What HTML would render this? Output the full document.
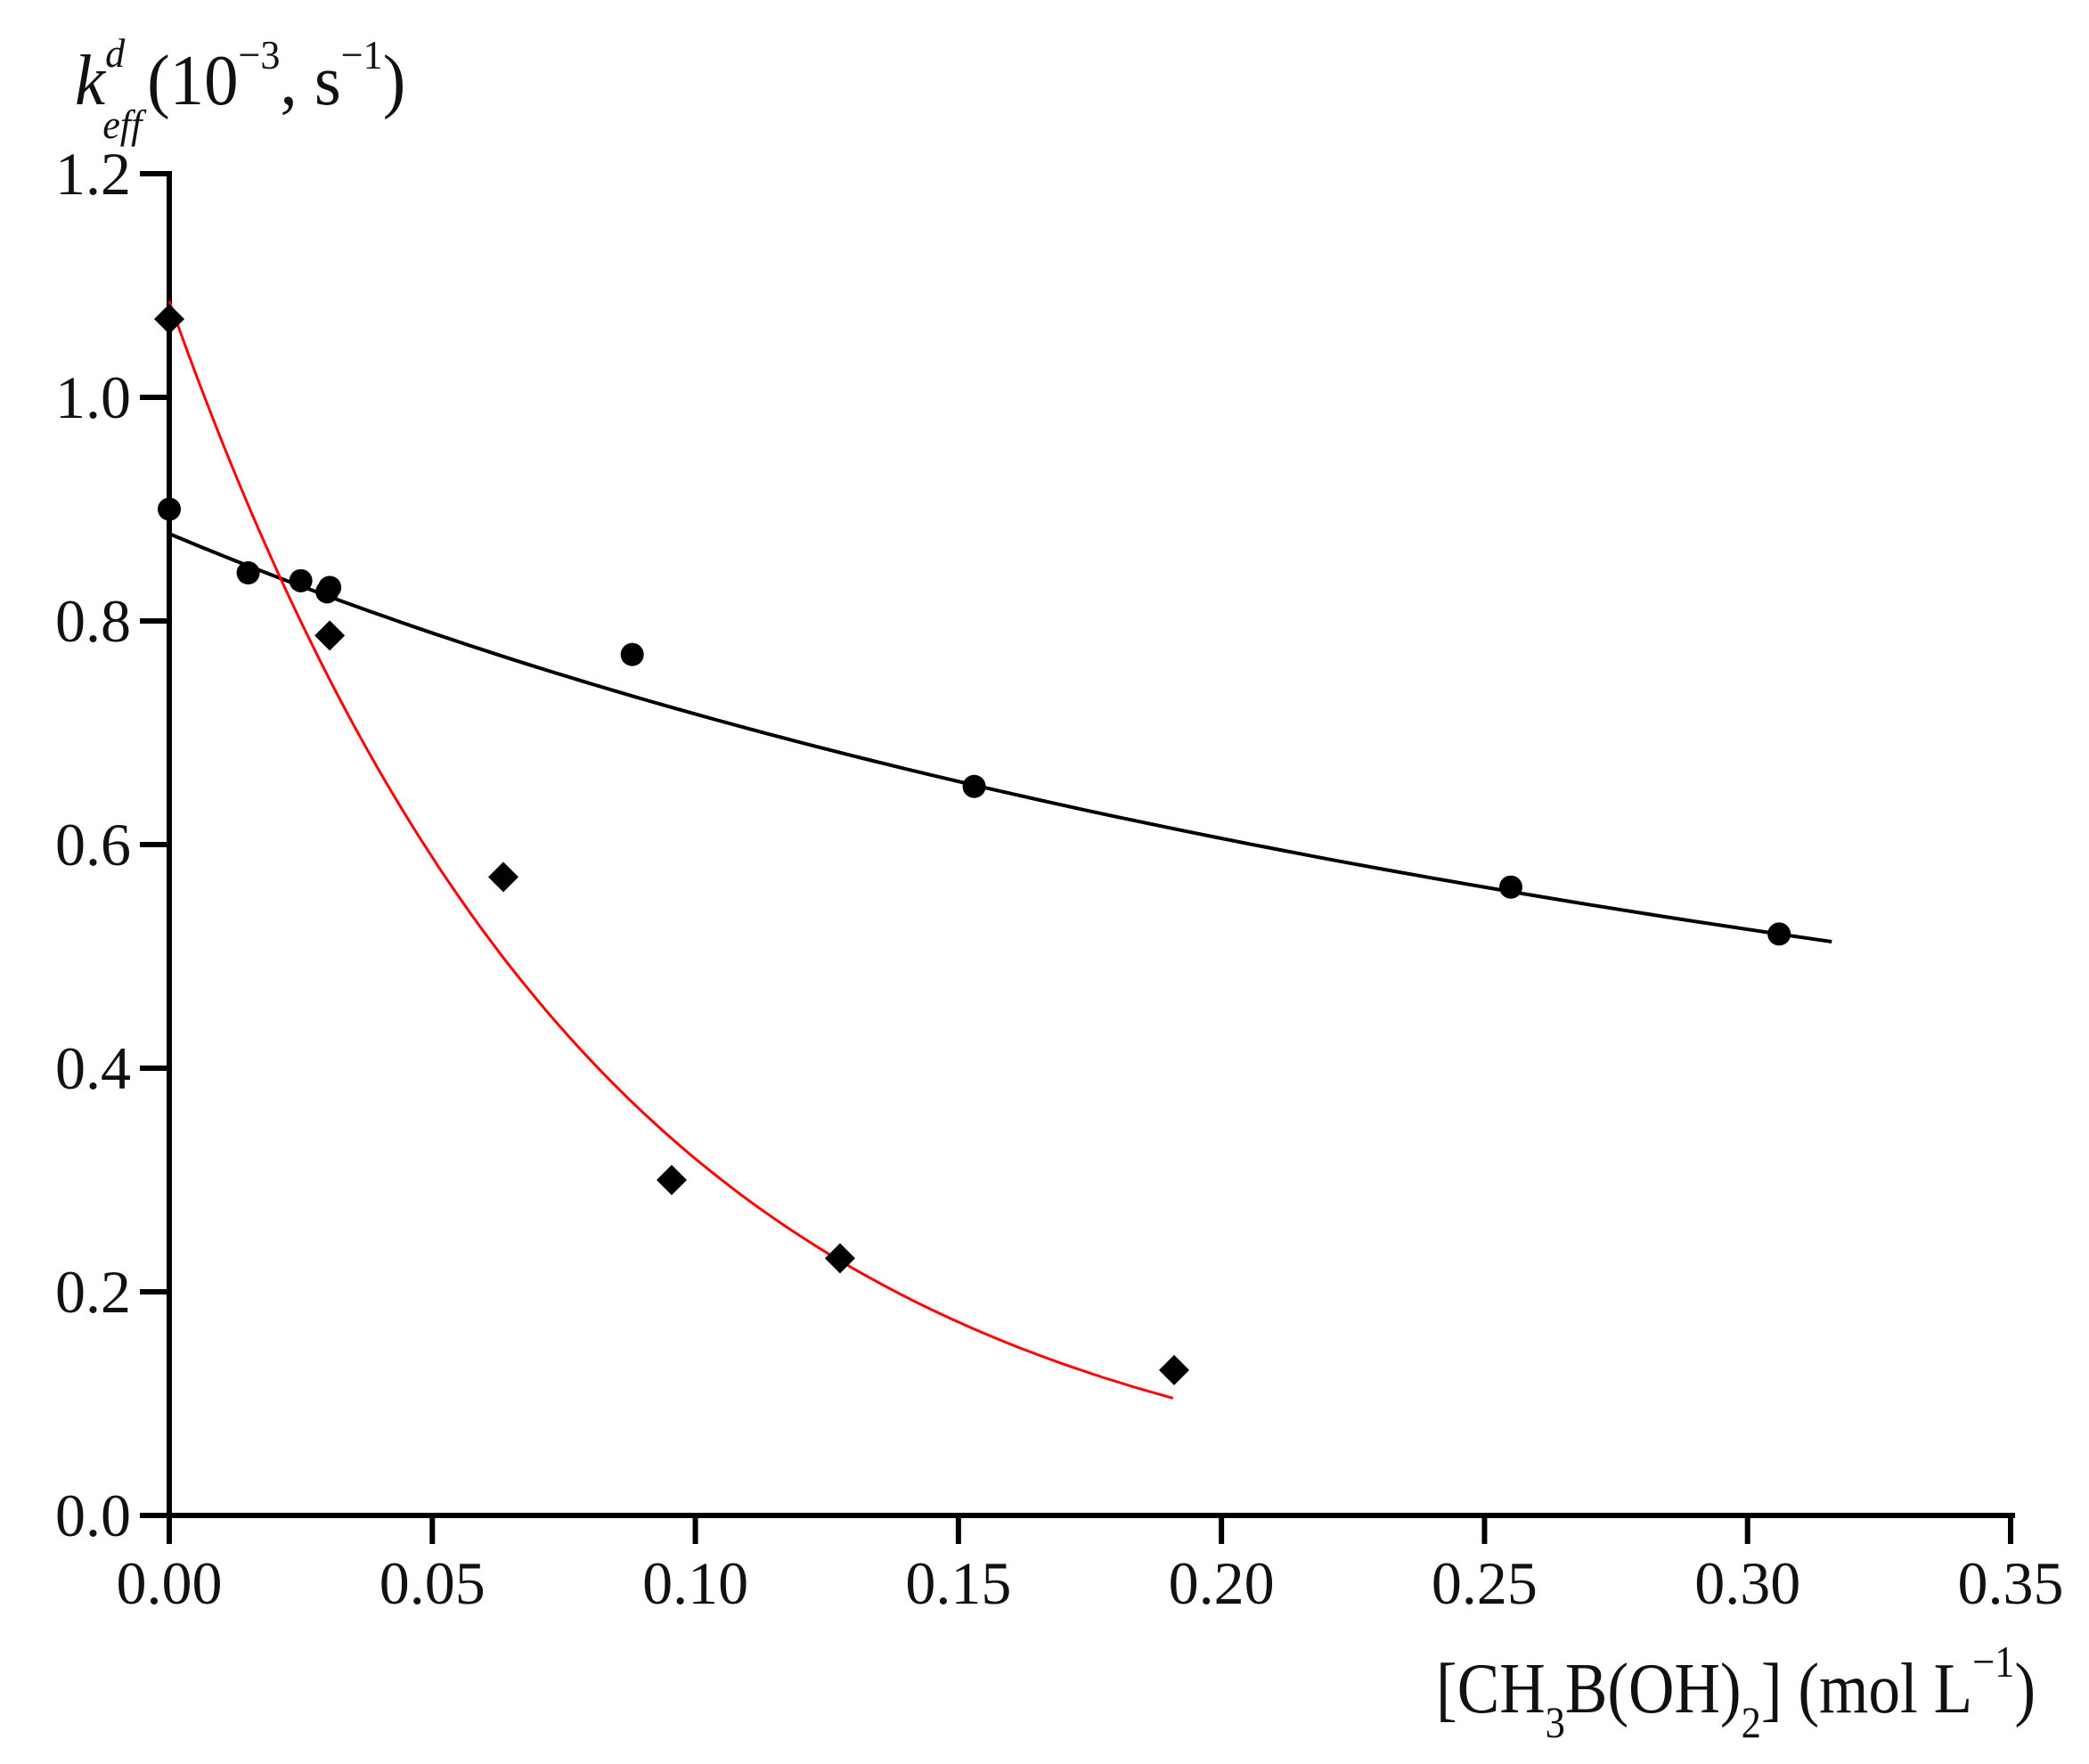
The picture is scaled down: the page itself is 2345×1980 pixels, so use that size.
<!DOCTYPE html>
<html><head><meta charset="utf-8"><style>
html,body{margin:0;padding:0;background:#fff;}
svg{display:block;}
text{font-family:"Liberation Serif",serif;fill:#111;}
</style></head><body>
<svg id="s" width="2345" height="1980" viewBox="0 0 2345 1980" xmlns="http://www.w3.org/2000/svg">
<g stroke="#000" stroke-width="6" fill="none">
<line x1="190" y1="192" x2="190" y2="1704"/>
<line x1="157" y1="1701" x2="2262" y2="1701"/>
</g>
<g id="ticks" stroke="#000" stroke-width="6"></g>
<g id="labels" font-size="68"></g>
<path id="black" fill="none" stroke="#000" stroke-width="4"/>
<path id="red" fill="none" stroke="#f00" stroke-width="3"/>
<g id="pts" fill="#000"></g>
<g transform="translate(84,0) scale(0.96,1)">
<text x="0" y="117" font-size="80"><tspan font-style="italic">k</tspan><tspan font-size="46" font-style="italic" dx="0" dy="-42">d</tspan><tspan font-size="46" font-style="italic" dx="-26" dy="80">eff</tspan><tspan dy="-38" dx="6">(10</tspan><tspan font-size="46" dy="-40">−3</tspan><tspan dy="40">, s</tspan><tspan font-size="46" dy="-40">−1</tspan><tspan dy="40">)</tspan></text>
</g>
<g transform="translate(1612,0) scale(0.89,1)">
<text x="0" y="1922" font-size="80">[CH<tspan font-size="50" dy="28">3</tspan><tspan dy="-28">B(OH)</tspan><tspan font-size="50" dy="28">2</tspan><tspan dy="-28">] (mol L</tspan><tspan font-size="50" dy="-40">−1</tspan><tspan dy="40">)</tspan></text>
</g>
</svg>
<script>
var X=function(v){return 190+v*2067/0.35;}, Y=function(v){return 1701-v*1255/1.0;};
var ns="http://www.w3.org/2000/svg";
function el(p,t,a,txt){var e=document.createElementNS(ns,t);for(var k in a)e.setAttribute(k,a[k]);if(txt)e.textContent=txt;document.getElementById(p).appendChild(e);}
for(var i=0;i<=6;i++){var v=i*0.2,y=Y(v);el("ticks","line",{x1:157,y1:y,x2:190,y2:y});el("labels","text",{x:147,y:y+23,"text-anchor":"end"},v.toFixed(1));}
for(var i=0;i<=7;i++){var v=i*0.05,x=X(v);el("ticks","line",{x1:x,y1:1701,x2:x,y2:1733});el("labels","text",{x:x,y:1800,"text-anchor":"middle"},v.toFixed(2));}
var d="";for(var i=0;i<=100;i++){var x=0.316*i/100;d+=(i?"L":"M")+X(x).toFixed(1)+","+Y(0.878/(1+2.25*x)).toFixed(1);}
document.getElementById("black").setAttribute("d",d);
d="";for(var i=0;i<=100;i++){var x=0.1908*i/100;d+=(i?"L":"M")+X(x).toFixed(1)+","+Y(1.086*Math.exp(-12.25*x)).toFixed(1);}
document.getElementById("red").setAttribute("d",d);
var c=[[0,0.9],[0.015,0.843],[0.025,0.836],[0.03,0.826],[0.0305,0.83],[0.088,0.77],[0.153,0.652],[0.255,0.562],[0.306,0.52]];
c.forEach(function(p){el("pts","circle",{cx:X(p[0]),cy:Y(p[1]),r:13});});
var dm=[[0,1.07],[0.0305,0.787],[0.0635,0.571],[0.0955,0.30],[0.1275,0.23],[0.191,0.13]];
dm.forEach(function(p){var x=X(p[0]),y=Y(p[1]),r=17;el("pts","polygon",{points:x+","+(y-r)+" "+(x+r)+","+y+" "+x+","+(y+r)+" "+(x-r)+","+y});});
</script>
</body></html>
